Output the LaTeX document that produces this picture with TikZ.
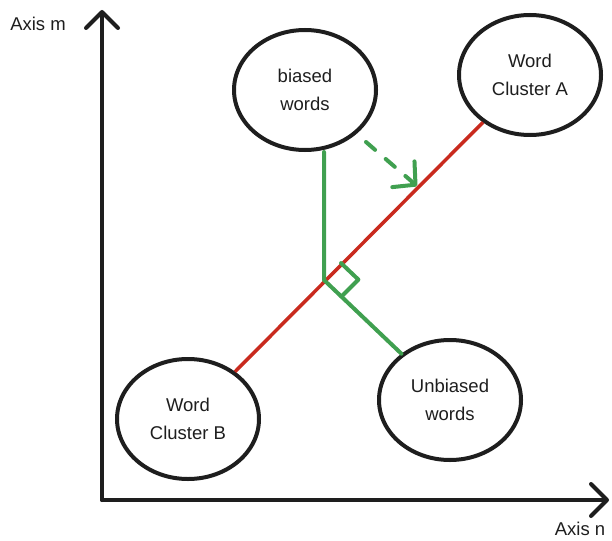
\documentclass[tikz,border=0pt]{standalone}
\usepackage{fontspec}
\setmainfont{Liberation Sans}
\usetikzlibrary{shapes.geometric,arrows.meta,calc}
\definecolor{inkblack}{HTML}{1E1E1E}
\definecolor{redline}{HTML}{C92A1E}
\definecolor{greenline}{HTML}{40A050}
\tikzset{
  blob/.style={ellipse,draw=inkblack,line width=4pt,inner sep=0pt,minimum width=142pt,minimum height=120pt,align=center,font=\fontsize{18.5}{28}\selectfont,text=inkblack},
  axis/.style={draw=inkblack,line width=4pt,line cap=round,-{Straight Barb[length=16pt,width=32pt,line cap=round,round]}},
  axislabel/.style={font=\fontsize{18.5}{20}\selectfont,text=inkblack},
  redseg/.style={draw=redline,line width=3.5pt},
  greenseg/.style={draw=greenline,line width=4pt,line cap=round,line join=round},
}
\begin{document}
\begin{tikzpicture}[x=1pt,y=-1pt]
\useasboundingbox (0,0) rectangle (612,540);
\coordinate (O) at (102,500);
\coordinate (ytop) at (102,10);
\coordinate (xtop) at (609,500);
\draw[axis] (O) -- (ytop);
\draw[axis] (O) -- (xtop);
\node[axislabel] (am) at (38,24) {Axis m};
\node[axislabel] (an) at (580,529) {Axis n};

\node[blob] (bw) at (305,90) {biased\\words};
\node[blob] (ca) at (530,75) {Word\\Cluster A};
\node[blob] (cb) at (188,419) {Word\\Cluster B};
\node[blob] (uw) at (450,400) {Unbiased\\words};

\draw[redseg] (cb) -- (ca);

\coordinate (foot) at (324,280);
\draw[greenseg] (foot |- bw.south) -- (foot) -- (uw);
% right angle marker
\coordinate (m1) at ($(foot)!24pt!(ca)$);
\coordinate (m3) at ($(foot)!24pt!(uw.center)$);
\draw[greenseg] (m1) -- ($(m1)+(m3)-(foot)$) -- (m3);

\coordinate (ds) at (366,142);
\coordinate (de) at (417,186);
\draw[greenseg,dash pattern=on 12pt off 14pt,-{Straight Barb[length=16pt,width=34pt,line cap=round,round]}] (ds) -- (de);
\end{tikzpicture}
\end{document}
